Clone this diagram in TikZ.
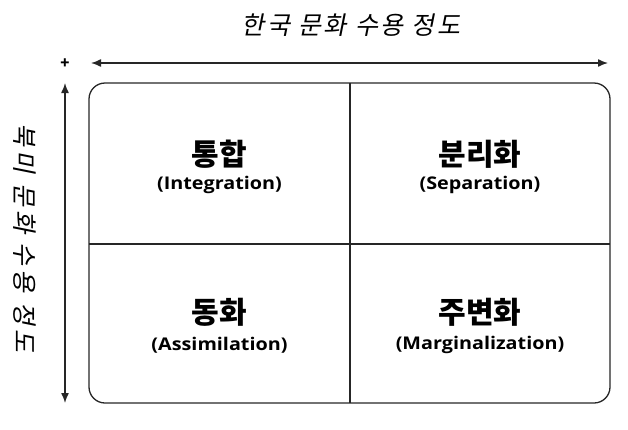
\documentclass[tikz,border=0pt]{standalone}
\usepackage{fontspec}
\usetikzlibrary{arrows.meta}
\newfontfamily\krfont{Noto Sans CJK KR}
\newfontfamily\kritfont[FakeSlant=0.2,LetterSpace=10]{Noto Sans CJK KR}
\newfontfamily\krvfont[FakeSlant=0.2,LetterSpace=16]{Noto Sans CJK KR}
\newfontfamily\enfont[FakeStretch=1.13]{Open Sans}
\tikzset{
  axislabel/.style={font=\kritfont\fontsize{25}{27}\selectfont, inner sep=0pt},
  vaxislabel/.style={font=\krvfont\fontsize{25}{27}\selectfont, inner sep=0pt},
  krlabel/.style={font=\krfont\bfseries\fontsize{30}{32}\selectfont, inner sep=0pt},
  enlabel/.style={font=\enfont\bfseries\fontsize{17.5}{19}\selectfont, inner sep=0pt},
  axisarrow/.style={line width=1.4pt, black!85, {Latex[length=10pt,width=8pt]}-{Latex[length=10pt,width=8pt]}},
  gridline/.style={line width=1.3pt, black!85},
  signlabel/.style={font=\krfont\bfseries\fontsize{15}{15}\selectfont, inner sep=0pt}
}
\begin{document}
\begin{tikzpicture}[x=1pt,y=-1pt]
\useasboundingbox (0,0) rectangle (628,429);
% title and axis labels
\node[axislabel] (title) at (351,25) {한국 문화 수용 정도};
\node[vaxislabel, rotate=-90] (ylabel) at (25,238) {북미 문화 수용 정도};
\node[signlabel] (plus) at (65,64) {+};
% axis arrow endpoints
\coordinate (hl) at (91,63);
\coordinate (hr) at (608,63);
\coordinate (vt) at (65,83);
\coordinate (vb) at (65,403);
\draw[axisarrow] (hl) -- (hr);
\draw[axisarrow] (vt) -- (vb);
% frame
\coordinate (tl) at (89,83);
\coordinate (br) at (610,403);
\coordinate (mt) at (350,83);
\coordinate (mb) at (350,403);
\coordinate (ml) at (89,244);
\coordinate (mr) at (610,244);
\draw[gridline, rounded corners=16pt] (tl) rectangle (br);
\draw[gridline] (mt) -- (mb);
\draw[gridline] (ml) -- (mr);
% quadrants
\node[krlabel] (q1k) at (219.5,154) {통합};
\node[enlabel] (q1e) at (219.5,185) {(Integration)};
\node[krlabel] (q2k) at (480,154) {분리화};
\node[enlabel] (q2e) at (480,185) {(Separation)};
\node[krlabel] (q3k) at (219.5,312) {동화};
\node[enlabel] (q3e) at (219.5,345) {(Assimilation)};
\node[krlabel] (q4k) at (480,312) {주변화};
\node[enlabel] (q4e) at (480,345) {(Marginalization)};
\end{tikzpicture}
\end{document}
